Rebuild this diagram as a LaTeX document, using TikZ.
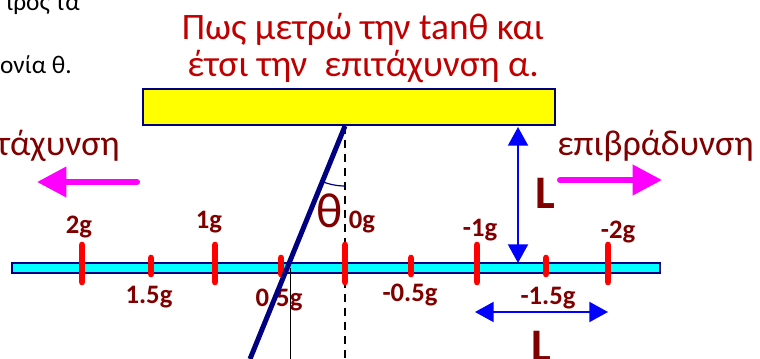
\documentclass[tikz,border=0pt]{standalone}
\usepackage{fontspec}
\setmainfont{Carlito}
\usepackage{tikz}
\usetikzlibrary{arrows.meta,positioning}
\definecolor{bnavy}{HTML}{000080}
\definecolor{bred}{HTML}{FF0000}
\definecolor{bmaroon}{HTML}{800000}
\definecolor{btitle}{HTML}{C00000}
\definecolor{bpink}{HTML}{FF00FF}
\definecolor{bblue}{HTML}{0000FF}
\definecolor{byellow}{HTML}{FFFF00}
\definecolor{baqua}{HTML}{00FFFF}
\tikzset{
  plate/.style={rectangle, draw=bnavy, line width=1.2pt, inner sep=0pt},
  tickbig/.style={draw=bred, line width=5pt, line cap=round},
  ticksmall/.style={draw=bred, line width=5pt, line cap=round},
  glab/.style={font=\fontsize{20}{20}\selectfont\bfseries, text=bmaroon, inner sep=0pt},
  dimlab/.style={font=\fontsize{35}{35}\selectfont\bfseries, text=bmaroon, inner sep=0pt},
  ttl/.style={font=\fontsize{28}{28}\selectfont, text=btitle, inner sep=0pt},
  word/.style={font=\fontsize{27}{27}\selectfont, text=bmaroon, inner sep=0pt},
  bg/.style={font=\fontsize{19}{19}\selectfont, text=black, inner sep=0pt},
  motion/.style={draw=bpink, line width=4.5pt, line cap=round,
                 -{Triangle[length=22pt,width=22pt]}},
  dimar/.style={draw=bblue, line width=1.5pt,
                {Triangle[length=14pt,width=15pt]}-{Triangle[length=14pt,width=15pt]}},
}

\begin{document}
\begin{tikzpicture}[x=0.75pt,y=-0.75pt]
\useasboundingbox (0,0) rectangle (760,359);

% fragments of the slide text
\node[bg,anchor=base east] (frag1) at (80,11) {ιρος τα};
\node[bg,anchor=base east] (frag2) at (72,74) {ονία θ.};

% title
\node[ttl,anchor=base] (title1) at (363,40) {Πως μετρώ την tanθ και};
\node[ttl,anchor=base] (title2) at (363,77) {έτσι την~ επιτάχυνση α.};

% support plate and rail
\node[plate,fill=byellow,minimum width=309pt,minimum height=27pt] (bar) at (349,107) {};
\node[plate,fill=baqua,minimum width=486pt,minimum height=7.5pt] (rail) at (336,268) {};

\coordinate (pivot) at (345,126);
\coordinate (bob) at (250,359);
\coordinate (vbot) at (345,359);
\coordinate (foot) at (290,268);
\coordinate (footbot) at (290,359);

% vertical reference and thin drop line
\draw[black, line width=1.1pt, dash pattern=on 6pt off 4.5pt] (pivot) -- (vbot);
\draw[black, line width=0.75pt] (foot) -- (footbot);

% scale marks
\foreach \x/\lx/\ly/\lab in {82/79/227/2g,215/209/222/1g,345/362/222/0g,477/480/230/-1g,608/618/232/-2g}
  \draw[tickbig] (\x,245) -- (\x,282) node[glab] at (\lx,\ly) {\lab};
\foreach \x/\lx/\ly/\lab in {151/149/297/1.5g,281/279/300/0.5g,411/410/295/-0.5g,546/548/298/-1.5g}
  \draw[ticksmall] (\x,258) -- (\x,274) node[glab] at (\lx,\ly) {\lab};

% pendulum
\draw[bnavy, line width=3.75pt] (pivot) -- (bob);
\draw[bnavy, line width=0.9pt] (pivot) ++(90:60) arc[start angle=90,end angle=113,radius=60];
\node[font=\fontsize{37}{37}\selectfont, text=bmaroon, inner sep=0pt] (theta) at (330,211) {θ};

% distances L
\coordinate (ltop) at (518,127);
\coordinate (lbot) at (518,263);
\draw[dimar] (ltop) -- (lbot);
\node[dimlab] (lv) at (545,193) {L};
\coordinate (lleft) at (475,312);
\coordinate (lright) at (608,312);
\draw[dimar] (lleft) -- (lright);
\node[dimlab] (lh) at (541,346) {L};

% motion directions
\node[word,anchor=base east] (acc) at (120,156) {τάχυνση};
\coordinate (accs) at (137,182);
\coordinate (acce) at (37,182);
\draw[motion] (accs) -- (acce);
\node[word,anchor=base west] (dec) at (557,156) {επιβράδυνση};
\coordinate (decs) at (560,180);
\coordinate (dece) at (662,180);
\draw[motion] (decs) -- (dece);
\end{tikzpicture}
\end{document}
